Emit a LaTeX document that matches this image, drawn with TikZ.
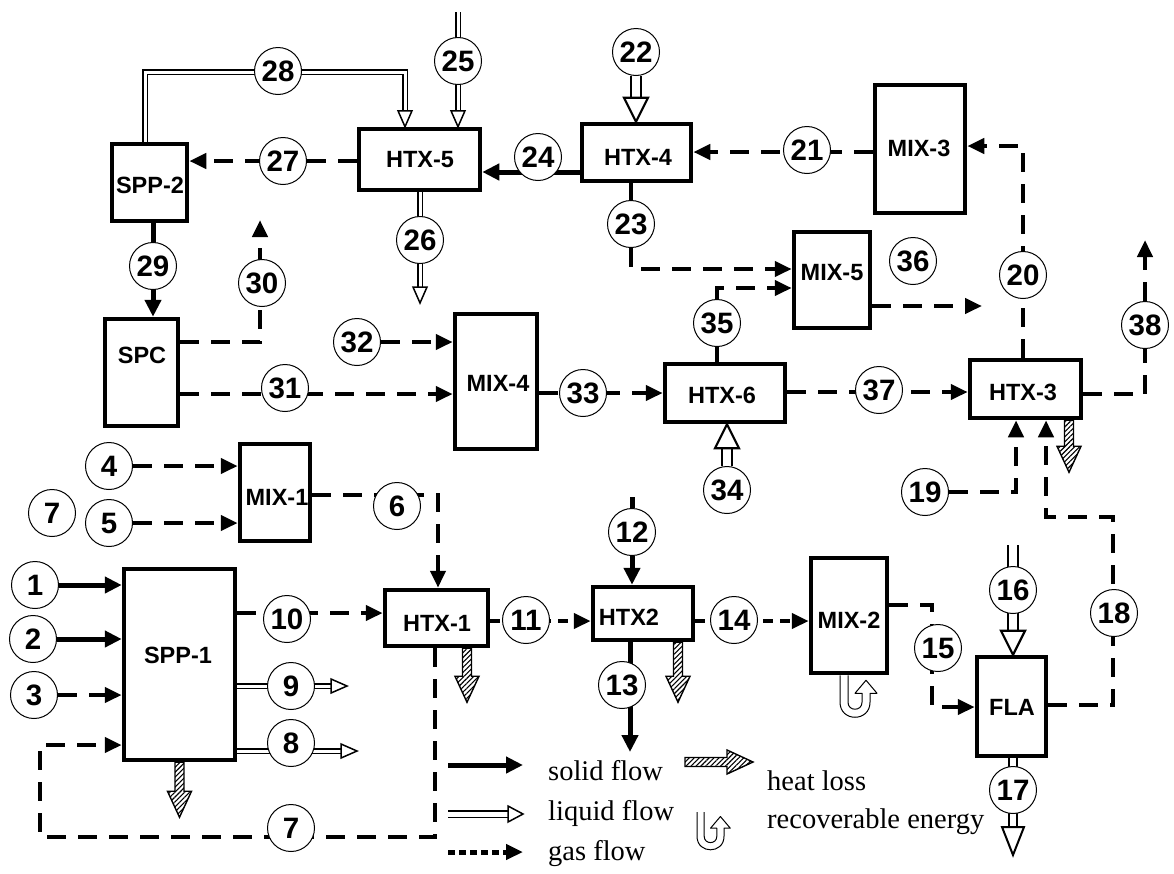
\documentclass[tikz,border=0pt]{standalone}
\usepackage{fontspec}
\setmainfont{Liberation Serif}
\setsansfont{Liberation Sans}
\usetikzlibrary{arrows.meta,decorations.markings,patterns.meta}
\pgfdeclarelayer{bg}
\pgfsetlayers{bg,main}
\tikzset{
  box/.style={draw, line width=4.5pt, fill=white, inner sep=0pt},
  lab/.style={font=\sffamily\bfseries\fontsize{23.5}{24}\selectfont, inner sep=0pt},
  circ/.style={circle, draw, line width=1pt, fill=white, minimum size=47pt, inner sep=0pt, font=\sffamily\bfseries\fontsize{29.5}{30}\selectfont},
  leg/.style={font=\fontsize{28.5}{30}\selectfont, inner sep=0pt, anchor=base west},
  solidf/.style={line width=5pt, -{Triangle[length=17pt,width=16pt]}},
  solidl/.style={line width=5pt},
  gas/.style={line width=4.5pt, dash pattern=on 19pt off 12pt, -{Triangle[length=17pt,width=15pt]}},
  gasl/.style={line width=4.5pt},
  gasshort/.style={gas, dash pattern=on 10pt off 7pt},
  liq/.style n args={4}{draw=none,
     preaction={draw, line width=#2, double=white, double distance=#1, line join=miter, shorten >=#3pt},
     postaction={decorate, decoration={markings, mark=at position 1 with {\draw[line width=#2, fill=white, line join=miter] (0pt,0pt) -- (-#3pt,#4pt) -- (-#3pt,-#4pt) -- cycle;}}}},
  liqs/.style={liq={3pt}{1.5pt}{16}{7}},
  liqb/.style={liq={8pt}{2.2pt}{24}{12}},
  pics/heat/.style={code={\draw[line width=1.4pt, line join=miter, pattern={Lines[angle=45,distance=3.5pt,line width=1.1pt]}] (0,-4.5) -- (#1-26,-4.5) -- (#1-26,-12) -- (#1,0) -- (#1-26,12) -- (#1-26,4.5) -- (0,4.5) -- cycle;}},
  pics/uturn/.style={code={\draw[line width=1pt, line join=round] (0,0) -- (0,27) .. controls (0,47) and (30,47) .. (30,27) -- (30,18) -- (37,18) -- (26,5) -- (15,18) -- (22,18) -- (22,27) .. controls (22,36.3) and (8,36.3) .. (8,27) -- (8,0);}}
}
\begin{document}
\begin{tikzpicture}[x=1pt,y=-1pt]
\useasboundingbox (0,0) rectangle (1174,873);
% boxes
\node[box, minimum width=75pt, minimum height=77pt] (spp2) at (149.5,182.5) {};
\node[box, minimum width=121pt, minimum height=61pt] (htx5) at (419.5,159.5) {};
\node[box, minimum width=109pt, minimum height=57pt] (htx4) at (636.5,152.5) {};
\node[box, minimum width=90pt, minimum height=128pt] (mix3) at (920,149) {};
\node[box, minimum width=76pt, minimum height=96pt] (mix5) at (832,280) {};
\node[box, minimum width=73pt, minimum height=107pt] (spc) at (141.5,372.5) {};
\node[box, minimum width=82pt, minimum height=135pt] (mix4) at (496,381.5) {};
\node[box, minimum width=120pt, minimum height=58pt] (htx6) at (725,393) {};
\node[box, minimum width=111pt, minimum height=58pt] (htx3) at (1025.5,389) {};
\node[box, minimum width=70pt, minimum height=97pt] (mix1) at (275,492.5) {};
\node[box, minimum width=111pt, minimum height=191pt] (spp1) at (179.5,664.5) {};
\node[box, minimum width=103pt, minimum height=56pt] (htx1) at (436.5,618) {};
\node[box, minimum width=100pt, minimum height=53pt] (htx2) at (643,613.5) {};
\node[box, minimum width=76pt, minimum height=115pt] (mix2) at (849,615.5) {};
\node[box, minimum width=69pt, minimum height=99pt] (fla) at (1011.5,706.5) {};
% box labels
\node[lab] (lspp2) at (150,185) {SPP-2};
\node[lab] (lhtx5) at (420,160) {HTX-5};
\node[lab] (lhtx4) at (638,157) {HTX-4};
\node[lab] (lmix3) at (919,148) {MIX-3};
\node[lab] (lmix5) at (832,273) {MIX-5};
\node[lab] (lspc) at (142,355) {SPC};
\node[lab] (lmix4) at (498,383) {MIX-4};
\node[lab] (lhtx6) at (722,395) {HTX-6};
\node[lab] (lhtx3) at (1023,392) {HTX-3};
\node[lab] (lmix1) at (277,497) {MIX-1};
\node[lab] (lspp1) at (178,655) {SPP-1};
\node[lab] (lhtx1) at (437,623) {HTX-1};
\node[lab] (lhtx2) at (629,617) {HTX2};
\node[lab] (lmix2) at (849,620) {MIX-2};
\node[lab] (lfla) at (1012,707) {FLA};
% circles
\node[circ] (c1) at (35,585) {1};
\node[circ] (c2) at (33,639) {2};
\node[circ] (c3) at (34,695) {3};
\node[circ] (c4) at (109,466) {4};
\node[circ] (c5) at (109,523) {5};
\node[circ] (c7a) at (52,513) {7};
\node[circ] (c6) at (397,506) {6};
\node[circ] (c7) at (291,828) {7};
\node[circ] (c8) at (291,743) {8};
\node[circ] (c9) at (291,686) {9};
\node[circ] (c10) at (287,619) {10};
\node[circ] (c11) at (526,620) {11};
\node[circ] (c12) at (632,532) {12};
\node[circ] (c13) at (622,685) {13};
\node[circ] (c14) at (734,620) {14};
\node[circ] (c15) at (938,648) {15};
\node[circ] (c16) at (1013,590) {16};
\node[circ] (c17) at (1013,790) {17};
\node[circ] (c18) at (1114,613) {18};
\node[circ] (c19) at (925,492) {19};
\node[circ] (c20) at (1023,275) {20};
\node[circ] (c21) at (807,150) {21};
\node[circ] (c22) at (636,52) {22};
\node[circ] (c23) at (631,224) {23};
\node[circ] (c24) at (538,157) {24};
\node[circ] (c25) at (458,61) {25};
\node[circ] (c26) at (420,240) {26};
\node[circ] (c27) at (283,161) {27};
\node[circ] (c28) at (278,71) {28};
\node[circ] (c29) at (153,266) {29};
\node[circ] (c30) at (262,283) {30};
\node[circ] (c31) at (285,388) {31};
\node[circ] (c32) at (357,342) {32};
\node[circ] (c33) at (583,393) {33};
\node[circ] (c34) at (727,490) {34};
\node[circ] (c35) at (717,323) {35};
\node[circ] (c36) at (913,261) {36};
\node[circ] (c37) at (879,390) {37};
\node[circ] (c38) at (1145,325) {38};
% free ends
\coordinate (e30) at (260,220);
\coordinate (e36) at (982,306);
\coordinate (e38) at (1145,240);
\coordinate (s12) at (632,497);
\coordinate (e13) at (630,752);
\coordinate (s25) at (458,12);
\coordinate (e26) at (420,303);
\coordinate (s16) at (1013,545);
\coordinate (e17) at (1013,855);
\coordinate (e9) at (347,686);
\coordinate (e8) at (357,751);
\begin{pgfonlayer}{bg}
% gas flows
\draw[gas] (htx5.west |- c27) -- (spp2.east |- c27);
\draw[gas] (spc.east |- 0,342) -| (e30);
\draw[gas] (spc.east |- 0,394) -- (mix4.west |- 0,394);
\draw[gas] (c32.east) -- (mix4.west |- c32);
\draw[gas] (mix3.west |- 0,152) -- (htx4.east |- 0,152);
\draw[gas] (htx3.north -| c20) |- (mix3.east |- 0,146);
\draw[gasl] (htx4.south -| c23) -- (c23);
\draw[gas] (c23.south) |- (mix5.west |- 0,269);
\draw[gas] (htx6.north -| c35) |- (mix5.west |- 0,288);
\draw[gas] (mix5.east |- e36) -- (e36);
\draw[gas] (mix4.east |- c33) -- (htx6.west |- c33);
\draw[gas] (htx6.east |- 0,392) -- (htx3.west |- 0,392);
\draw[gas] (htx3.east |- 0,394) -| (e38);
\draw[gas] (c19.east) -| (htx3.south -| 1016,0);
\draw[gas] (fla.east |- 0,705) -| (1113,517) -| (htx3.south -| 1046,0);
\draw[gas] (mix2.east |- 0,605) -| (932,707) -- (fla.west |- 0,707);
\draw[gasshort] (htx2.east |- 0,621) -- (mix2.west |- 0,621);
\draw[gasshort] (htx1.east |- 0,621) -- (htx2.west |- 0,621);
\draw[gas] (spp1.east |- 0,613) -- (htx1.west |- 0,613);
\draw[gas] (mix1.east |- 0,495) -| (htx1.north -| 438,0);
\draw[gas] (c4.east) -- (mix1.west |- c4);
\draw[gas] (c5.east) -- (mix1.west |- c5);
\draw[gas] (c3.east) -- (spp1.west |- c3);
\draw[gas] (htx1.south -| 435,0) |- (40,837) |- (spp1.west |- 0,745);
% solid flows
\draw[solidf] (c1.east) -- (spp1.west |- c1);
\draw[solidf] (c2.east) -- (spp1.west |- c2);
\draw[solidf] (htx4.west |- 0,172) -- (htx5.east |- 0,172);
\draw[solidf] (spp2.south -| c29) -- (spc.north -| c29);
\draw[solidl] (s12) -- (c12);
\draw[solidf] (c12) -- (htx2.north -| c12);
\draw[solidf] (htx2.south -| e13) -- (e13);
% liquid flows
\draw[liqs] (spp2.north -| 145,0) |- (405,72) -- (htx5.north -| 405,0);
\draw[liqs] (s25) -- (htx5.north -| s25);
\draw[liqs] (htx5.south -| e26) -- (e26);
\draw[liqb] (c22.south) -- (htx4.north -| c22);
\draw[liqb] (s16) -- (fla.north -| s16);
\draw[liq={6pt}{2pt}{28}{11}] (fla.south -| e17) -- (e17);
\draw[liqb] (c34.north) -- (htx6.south -| c34);
\draw[liqs] (spp1.east |- e9) -- (e9);
\draw[liqs] (spp1.east |- e8) -- (e8);
\end{pgfonlayer}
% heat losses
\pic[rotate=-90] at (spp1.south) {heat=55};
\pic[rotate=-90] at (htx1.south -| 467,0) {heat=54};
\pic[rotate=-90] at (htx2.south -| 678,0) {heat=60};
\pic[rotate=-90] at (htx3.south -| 1069,0) {heat=52};
\pic at (mix2.south -| 840,0) {uturn};
% legend
\coordinate (ls1) at (448,765); \coordinate (ls2) at (523,765);
\coordinate (ll1) at (448,814); \coordinate (ll2) at (523,814);
\coordinate (lg1) at (448,852); \coordinate (lg2) at (523,852);
\coordinate (lh1) at (685,762);
\coordinate (lu1) at (697,812);
\draw[solidf] (ls1) -- (ls2);
\draw[liq={5pt}{1.5pt}{15}{8}] (ll1) -- (ll2);
\draw[gas, dash pattern=on 7pt off 4pt, line width=5pt] (lg1) -- (lg2);
\pic at (lh1) {heat=68};
\pic[scale=0.9] at (lu1) {uturn};
\node[leg] (t1) at (548,780) {solid flow};
\node[leg] (t2) at (548,820) {liquid flow};
\node[leg] (t3) at (548,860) {gas flow};
\node[leg] (t4) at (767,790) {heat loss};
\node[leg] (t5) at (767,828) {recoverable energy};
\end{tikzpicture}
\end{document}
